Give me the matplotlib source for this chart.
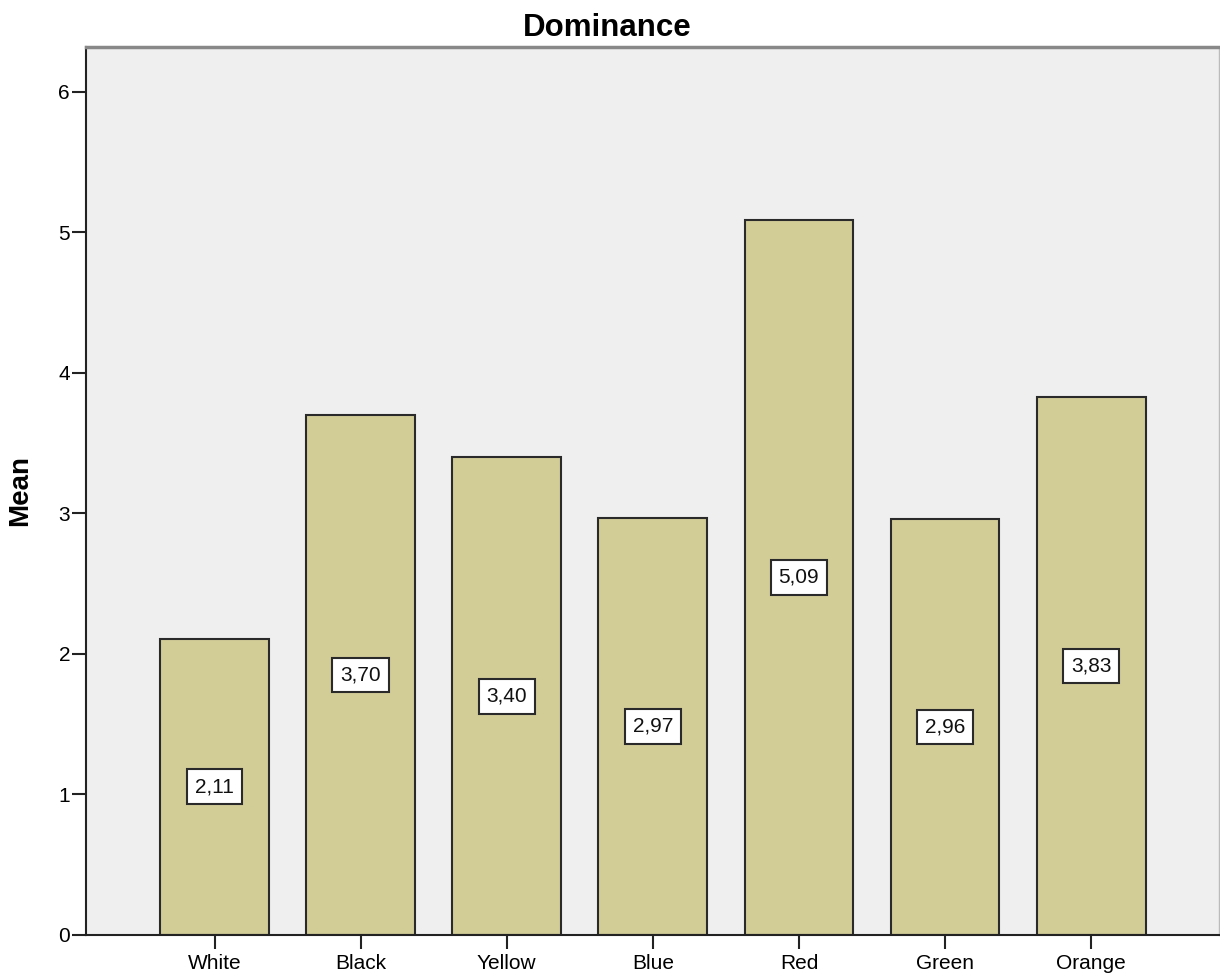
import matplotlib
matplotlib.use("Agg")
import matplotlib.pyplot as plt

categories = ["White", "Black", "Yellow", "Blue", "Red", "Green", "Orange"]
means = [2.11, 3.70, 3.40, 2.97, 5.09, 2.96, 3.83]
labels = ["2,11", "3,70", "3,40", "2,97", "5,09", "2,96", "3,83"]
yticks = [0, 1, 2, 3, 4, 5, 6]

plt.rcParams['font.family'] = ['Liberation Sans', 'DejaVu Sans']

W, H = 1220, 975
fig = plt.figure(figsize=(W / 100, H / 100), dpi=100)
ax = fig.add_axes([86 / W, 1 - 935 / H, (1219 - 86) / W, (935 - 47) / H])
ax.set_facecolor('#EFEFEF')

x = list(range(len(categories)))
ax.bar(x, means, width=0.745, color='#D2CC97', edgecolor='#2a2a2a', linewidth=1.5, zorder=2)
for xi, m, lab in zip(x, means, labels):
    ax.text(xi, m / 2, lab, ha='center', va='center', fontsize=15, color='#111111', zorder=3,
            bbox=dict(boxstyle='square,pad=0.38', facecolor='white', edgecolor='#2a2a2a', linewidth=1.5))

ax.set_xlim(-0.88, 6.875)
ax.set_ylim(0, 6.32)
ax.set_xticks(x)
ax.set_xticklabels(categories, fontsize=15)
ax.set_yticks(yticks)
ax.set_yticklabels([str(t) for t in yticks], fontsize=15)
ax.tick_params(axis='both', direction='out', length=10, width=1.5, color='#222222', pad=1.5)
ax.tick_params(axis='x', pad=4)

for s in ['left', 'bottom']:
    ax.spines[s].set_color('#222222')
    ax.spines[s].set_linewidth(1.5)
ax.spines['top'].set_color('#888888')
ax.spines['top'].set_linewidth(2.5)
ax.spines['right'].set_color('#BBBBBB')
ax.spines['right'].set_linewidth(1.0)

ax.set_ylabel('Mean', fontsize=20, fontweight='bold')
ax.yaxis.set_label_coords(-0.047, 0.5)
ax.set_title('Dominance', fontsize=22.5, fontweight='bold', pad=8, x=0.46)

fig.savefig('out.png', dpi=100)
